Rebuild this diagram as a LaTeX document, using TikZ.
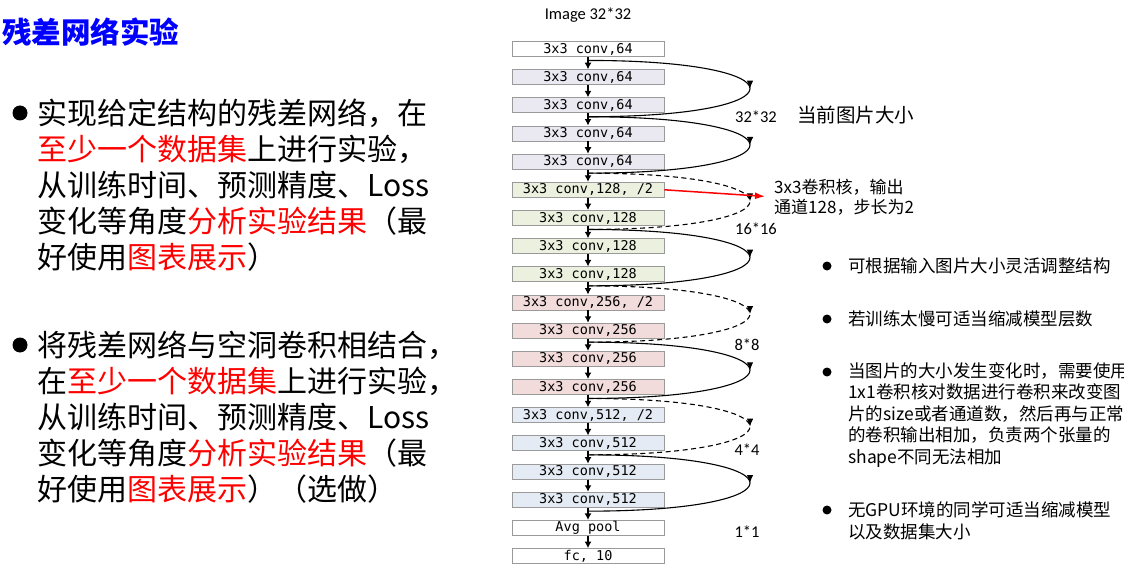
\documentclass[tikz,border=0pt]{standalone}
\usepackage{fontspec}
\setmainfont{Carlito}
\newfontfamily\cjk{Noto Sans CJK SC}
\newfontfamily\boxmono{DejaVu Sans Mono}
\usetikzlibrary{arrows.meta,decorations.markings}
\definecolor{boxgray}{HTML}{9A9A9A}
\definecolor{lav}{HTML}{EAE8F1}
\definecolor{mint}{HTML}{EBF1DE}
\definecolor{rose}{HTML}{F2DCDB}
\definecolor{sky}{HTML}{E5EBF4}
\newcommand{\redtxt}[1]{\textcolor{red}{#1}}
\newcommand{\boxw}{152pt}
\newcommand{\reach}{216}

\begin{document}
\begin{tikzpicture}[x=1pt,y=-1pt,
    layer/.style={draw=boxgray, line width=0.9pt, minimum width=\boxw, minimum height=15pt,
        inner sep=0pt, font=\boxmono\fontsize{13.5}{14}\selectfont},
    flow/.style={line width=1.3pt, -{Latex[length=6.5pt,width=7pt]}},
    skip/.style={line width=1.1pt, postaction={decorate},
        decoration={markings, mark=at position 0.5 with {\arrow{Latex[length=8pt,width=6.5pt]}}}},
    skipdash/.style={skip, dash pattern=on 5pt off 3.5pt},
    big/.style={anchor=west, align=left, inner sep=0pt, font=\cjk\fontsize{30}{36}\selectfont},
    note/.style={anchor=west, align=left, inner sep=0pt, font=\cjk\fontsize{17.5}{21.5}\selectfont},
    size/.style={inner sep=0pt, font=\fontsize{16.5}{17}\selectfont},
    bigdot/.style={circle, fill=black, inner sep=0pt, minimum size=15pt},
    dot/.style={circle, fill=black, inner sep=0pt, minimum size=9pt}]
    \useasboundingbox (0,0) rectangle (1124,572);
    %\draw[help lines] (0,0) grid[step=50] (1124,572);
        % left column
        \node[anchor=west, inner sep=0pt, text=blue, font=\cjk\bfseries\fontsize{29.5}{30}\selectfont] (title) at (2,32) {残差网络实验};
        \node[bigdot] (d1) at (20,113) {};
        \node[big] (p1) at (37,185) {实现给定结构的残差网络，在\\\redtxt{至少一个数据集}上进行实验，\\从训练时间、预测精度、Loss\\变化等角度\redtxt{分析实验结果}（最\\好使用\redtxt{图表展示}）};
        \node[bigdot] (d2) at (20,345) {};
        \node[big] (p2) at (37,417) {将残差网络与空洞卷积相结合，\\在\redtxt{至少一个数据集}上进行实验，\\从训练时间、预测精度、Loss\\变化等角度\redtxt{分析实验结果}（最\\好使用\redtxt{图表展示}）（选做）};

        % network
        \node[size] (img) at (588,15) {Image 32*32};
        \node[layer, fill=white] (b1) at (588,49) {3x3 conv,64};
        \node[layer, fill=lav] (b2) at (588,77.2) {3x3 conv,64};
        \node[layer, fill=lav] (b3) at (588,105.3) {3x3 conv,64};
        \node[layer, fill=lav] (b4) at (588,133.5) {3x3 conv,64};
        \node[layer, fill=lav] (b5) at (588,161.7) {3x3 conv,64};
        \node[layer, fill=mint] (b6) at (588,189.8) {3x3 conv,128, /2};
        \node[layer, fill=mint] (b7) at (588,218) {3x3 conv,128};
        \node[layer, fill=mint] (b8) at (588,246.2) {3x3 conv,128};
        \node[layer, fill=mint] (b9) at (588,274.4) {3x3 conv,128};
        \node[layer, fill=rose] (b10) at (588,302.5) {3x3 conv,256, /2};
        \node[layer, fill=rose] (b11) at (588,330.7) {3x3 conv,256};
        \node[layer, fill=rose] (b12) at (588,358.9) {3x3 conv,256};
        \node[layer, fill=rose] (b13) at (588,387) {3x3 conv,256};
        \node[layer, fill=sky] (b14) at (588,415.2) {3x3 conv,512, /2};
        \node[layer, fill=sky] (b15) at (588,443.4) {3x3 conv,512};
        \node[layer, fill=sky] (b16) at (588,471.6) {3x3 conv,512};
        \node[layer, fill=sky] (b17) at (588,499.7) {3x3 conv,512};
        \node[layer, fill=white] (b18) at (588,527.9) {Avg pool};
        \node[layer, fill=white] (b19) at (588,556.1) {fc, 10};

        \draw[flow] (b1) -- (b2);
        \draw[flow] (b2) -- (b3);
        \draw[flow] (b3) -- (b4);
        \draw[flow] (b4) -- (b5);
        \draw[flow] (b5) -- (b6);
        \draw[flow] (b6) -- (b7);
        \draw[flow] (b7) -- (b8);
        \draw[flow] (b8) -- (b9);
        \draw[flow] (b9) -- (b10);
        \draw[flow] (b10) -- (b11);
        \draw[flow] (b11) -- (b12);
        \draw[flow] (b12) -- (b13);
        \draw[flow] (b13) -- (b14);
        \draw[flow] (b14) -- (b15);
        \draw[flow] (b15) -- (b16);
        \draw[flow] (b16) -- (b17);
        \draw[flow] (b17) -- (b18);
        \draw[flow] (b18) -- (b19);

        % shortcuts
        \coordinate (j1) at ([yshift=-3.5pt]b1.south);
        \coordinate (j3) at ([yshift=-3.5pt]b3.south);
        \coordinate (j5) at ([yshift=-3.5pt]b5.south);
        \coordinate (j7) at ([yshift=-3.5pt]b7.south);
        \coordinate (j9) at ([yshift=-3.5pt]b9.south);
        \coordinate (j11) at ([yshift=-3.5pt]b11.south);
        \coordinate (j13) at ([yshift=-3.5pt]b13.south);
        \coordinate (j15) at ([yshift=-3.5pt]b15.south);
        \coordinate (j17) at ([yshift=-3.5pt]b17.south);
        \draw[skip] (j1) .. controls +(\reach,0) and +(\reach,0) .. (j3);
        \draw[skip] (j3) .. controls +(\reach,0) and +(\reach,0) .. (j5);
        \draw[skipdash] (j5) .. controls +(\reach,0) and +(\reach,0) .. (j7);
        \draw[skip] (j7) .. controls +(\reach,0) and +(\reach,0) .. (j9);
        \draw[skipdash] (j9) .. controls +(\reach,0) and +(\reach,0) .. (j11);
        \draw[skip] (j11) .. controls +(\reach,0) and +(\reach,0) .. (j13);
        \draw[skipdash] (j13) .. controls +(\reach,0) and +(\reach,0) .. (j15);
        \draw[skip] (j15) .. controls +(\reach,0) and +(\reach,0) .. (j17);

        \node[size] (s32) at (756,117) {32*32};
        \node[size] (s16) at (756,229) {16*16};
        \node[size] (s8) at (747,345) {8*8};
        \node[size] (s4) at (747,450) {4*4};
        \node[size] (s1) at (747,532) {1*1};

        % notes
        \node[anchor=west, inner sep=0pt, font=\cjk\fontsize{19.5}{20}\selectfont] (cur) at (797,115) {当前图片大小};
        \node[anchor=west, align=left, inner sep=0pt, font=\cjk\fontsize{17}{20}\selectfont] (k) at (774,197) {3x3卷积核，输出\\通道128，步长为2};
        \draw[red, line width=1.5pt, -{Latex[length=10pt,width=7pt]}, shorten >=9pt] (b6.east) -- (k.west);

        \node[dot] (n1) at (827,266) {};
        \node[note] (t1) at (848,266) {可根据输入图片大小灵活调整结构};
        \node[dot] (n2) at (827,319) {};
        \node[note] (t2) at (848,319) {若训练太慢可适当缩减模型层数};
        \node[dot] (n3) at (827,372) {};
        \node[note] (t3) at (848,415) {当图片的大小发生变化时，需要使用\\1x1卷积核对数据进行卷积来改变图\\片的size或者通道数，然后再与正常\\的卷积输出相加，负责两个张量的\\shape不同无法相加};
        \node[dot] (n4) at (827,510) {};
        \node[note] (t4) at (848,521) {无GPU环境的同学可适当缩减模型\\以及数据集大小};
    \end{tikzpicture}
\end{document}
